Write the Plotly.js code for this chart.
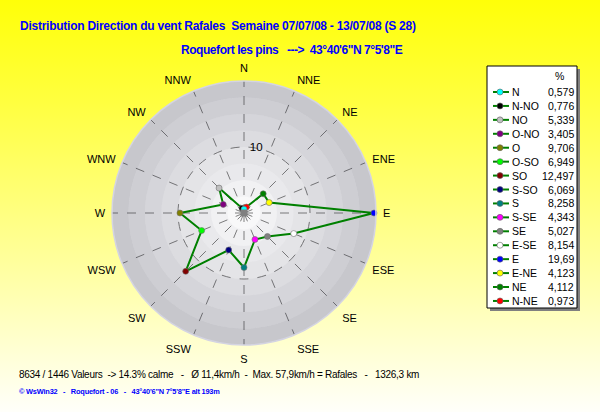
<!DOCTYPE html>
<html><head><meta charset="utf-8">
<script src="https://cdn.plot.ly/plotly-3.0.1.min.js"></script>
<style>
html,body{margin:0;padding:0;}
body{width:600px;height:412px;overflow:hidden;background:linear-gradient(to bottom,#ffff08 0%,#ffff40 25%,#ffffa0 65%,#fffffa 100%);}
#chart{width:600px;height:412px;}
</style></head><body><div id="chart"></div>
<script>
// ---- data ----
const legendNames = ['N','N-NO','NO','O-NO','O','O-SO','SO','S-SO','S','S-SE','SE','E-SE','E','E-NE','NE','N-NE'];
const directions  = ['N','NNW','NW','WNW','W','WSW','SW','SSW','S','SSE','SE','ESE','E','ENE','NE','NNE'];
const percentages = [0.579,0.776,5.339,3.405,9.706,6.949,12.497,6.069,8.258,4.343,5.027,8.154,19.69,4.123,4.112,0.973];
const markerColors = ['#00ffff','#000000','#c0c0c0','#800080','#808000','#00ff00','#800000','#000080','#008080','#ff00ff','#808080','#ffffff','#0000ff','#ffff00','#008000','#ff0000'];
const angularTickLabels = ['N','NNE','NE','ENE','E','ESE','SE','SSE','S','SSW','SW','WSW','W','WNW','NW','NNW'];
const radialTickVals = [10];
const radialTickText = ['10'];
const ringEdges = [0,2.5,5,7.5,10,12.5,15,17.5,20];
const ringAlphas = [0.02,0.05,0.085,0.115,0.15,0.18,0.215,0.25];

// ---- helpers ----
const W = 600, H = 412;
const px = x => x / W;
const py = y => 1 - y / H;
const angleOf = d => angularTickLabels.indexOf(d) * 22.5;
const thetaVals = directions.map(angleOf);
const fmt = v => String(v).replace('.', ',');
const sp = s => s.replace(/ /g, '\u00A0');
const squeeze = (s, ls) => '<span style="letter-spacing:' + ls + 'px">' + sp(s) + '</span>';

const traces = [];
// background rings
traces.push({
  type: 'barpolar',
  r: ringEdges.slice(1).map((e, i) => e - ringEdges[i]),
  base: ringEdges.slice(0, -1),
  theta: ringEdges.slice(1).map(() => 0),
  width: ringEdges.slice(1).map(() => 360),
  marker: {color: ringAlphas.map(a => 'rgba(40,40,60,' + a + ')'), line: {width: 0}},
  hoverinfo: 'skip', showlegend: false
});
// wind line
traces.push({
  type: 'scatterpolar',
  r: percentages.concat([percentages[0]]),
  theta: thetaVals.concat([thetaVals[0]]),
  mode: 'lines+markers',
  line: {color: '#008000', width: 2},
  marker: {color: markerColors.concat([markerColors[0]]), size: 6, line: {color: '#707070', width: 0.6}},
  showlegend: false, hoverinfo: 'skip'
});
// calm marker
traces.push({
  type: 'scatterpolar', r: [0], theta: [0], mode: 'markers',
  marker: {symbol: 'square', color: '#808080', size: 7},
  showlegend: false, hoverinfo: 'skip'
});

// ---- legend ----
const legLeft = 487, legRight = 577, legTop = 66, legBottom = 308;
const rowTop = 92, rowH = 13.93;
const rowY = i => rowTop + i * rowH;
traces.push({
  type: 'scatter', xaxis: 'x', yaxis: 'y',
  x: legendNames.map(() => 500), y: legendNames.map((n, i) => rowY(i)),
  mode: 'markers',
  marker: {color: markerColors, size: 6, line: {color: '#606060', width: 0.6}},
  showlegend: false, hoverinfo: 'skip', cliponaxis: false
});

const shapes = [
  {type: 'rect', xref: 'paper', yref: 'paper', x0: px(legLeft + 3), x1: px(legRight + 3), y0: py(legTop + 3), y1: py(legBottom + 3), fillcolor: '#808080', line: {width: 0}, layer: 'below'},
  {type: 'rect', xref: 'paper', yref: 'paper', x0: px(legLeft), x1: px(legRight), y0: py(legTop), y1: py(legBottom), fillcolor: '#ffffff', line: {color: '#000000', width: 1}, layer: 'below'}
];
legendNames.forEach((n, i) => {
  shapes.push({type: 'line', xref: 'paper', yref: 'paper', x0: px(493), x1: px(509), y0: py(rowY(i)), y1: py(rowY(i)), line: {color: '#008000', width: 2}, layer: 'below'});
});

const legFont = {family: 'Liberation Sans, Arial, sans-serif', size: 10.5, color: '#000000'};
const annotations = [];
annotations.push({xref: 'paper', yref: 'paper', x: px(559), y: py(76), text: '%', showarrow: false, xanchor: 'center', yanchor: 'middle', font: legFont});
legendNames.forEach((n, i) => {
  annotations.push({xref: 'paper', yref: 'paper', x: px(510), y: py(rowY(i)), text: n, showarrow: false, xanchor: 'left', yanchor: 'middle', font: legFont});
  annotations.push({xref: 'paper', yref: 'paper', x: px(576), y: py(rowY(i)), text: fmt(percentages[i]), showarrow: false, xanchor: 'right', yanchor: 'middle', font: legFont});
});

const titleFont = {family: 'Liberation Sans, Arial, sans-serif', size: 12, color: '#0000ff', weight: 'bold'};
annotations.push({xref: 'paper', yref: 'paper', x: px(18), y: py(26), xanchor: 'left', yanchor: 'middle', showarrow: false,
  text: squeeze('Distribution Direction du vent Rafales  Semaine 07/07/08 - 13/07/08 (S 28)', -0.25), font: titleFont});
annotations.push({xref: 'paper', yref: 'paper', x: px(179), y: py(50), xanchor: 'left', yanchor: 'middle', showarrow: false,
  text: squeeze('Roquefort les pins   --->  43°40\'6"N 7°5\'8"E', -0.45), font: titleFont});
annotations.push({xref: 'paper', yref: 'paper', x: px(17), y: py(374), xanchor: 'left', yanchor: 'middle', showarrow: false,
  text: squeeze('8634 / 1446 Valeurs  -> 14.3% calme   -   Ø 11,4km/h  -  Max. 57,9km/h = Rafales   -   1326,3 km', -0.28),
  font: {family: 'Liberation Sans, Arial, sans-serif', size: 10, color: '#000000'}});
annotations.push({xref: 'paper', yref: 'paper', x: px(17), y: py(391), xanchor: 'left', yanchor: 'middle', showarrow: false,
  text: squeeze('© WsWin32   -   Roquefort - 06   -   43°40\'6"N 7°5\'8"E alt 193m', -0.2),
  font: {family: 'Liberation Sans, Arial, sans-serif', size: 7.4, color: '#0000ff', weight: 'bold'}});

const layout = {
  width: W, height: H,
  margin: {l: 0, r: 0, t: 0, b: 0, pad: 0},
  paper_bgcolor: 'rgba(0,0,0,0)', plot_bgcolor: 'rgba(0,0,0,0)',
  showlegend: false,
  xaxis: {domain: [0, 1], range: [0, W], visible: false, fixedrange: true},
  yaxis: {domain: [0, 1], range: [H, 0], visible: false, fixedrange: true},
  polar: {
    domain: {x: [px(112), px(376)], y: [py(345), py(81)]},
    bgcolor: '#fcfcfd',
    barmode: 'overlay',
    angularaxis: {
      rotation: 90, direction: 'clockwise', thetaunit: 'degrees',
      tickmode: 'array', tickvals: angularTickLabels.map((d, i) => i * 22.5), ticktext: angularTickLabels,
      showgrid: true, gridcolor: '#808080', griddash: 'dash', gridwidth: 1,
      showline: true, linecolor: '#d4d4e2', linewidth: 1.5,
      ticks: 'outside', ticklen: 4, tickcolor: 'rgba(0,0,0,0)',
      tickfont: {family: 'Liberation Sans, Arial, sans-serif', size: 11, color: '#000000'}
    },
    radialaxis: {
      range: [0, 20], angle: 90, side: 'clockwise',
      tickmode: 'array', tickvals: radialTickVals, ticktext: radialTickText,
      showgrid: true, gridcolor: '#808080', griddash: 'dash', gridwidth: 1,
      showline: false, ticks: 'outside', ticklen: 3, tickcolor: 'rgba(0,0,0,0)', tickangle: 90,
      tickfont: {family: 'Liberation Sans, Arial, sans-serif', size: 11.5, color: '#000000'}
    }
  },
  shapes: shapes,
  annotations: annotations
};
Plotly.newPlot('chart', traces, layout, {staticPlot: true, displayModeBar: false});
</script></body></html>
